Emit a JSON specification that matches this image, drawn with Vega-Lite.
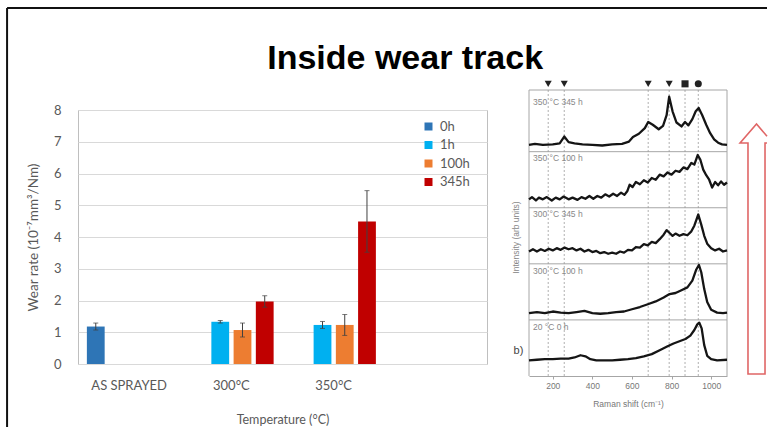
{
  "$schema": "https://vega.github.io/schema/vega-lite/v6.json",
  "background": "white",
  "padding": {"left": 6, "top": 7, "right": 0, "bottom": 0},
  "title": {"text": "Inside wear track", "font": "Liberation Sans", "fontSize": 34, "fontWeight": "bold", "color": "#000000", "anchor": "middle", "offset": -69, "dx": 17},
  "bounds": "flush",
  "center": true,
  "spacing": 42,
  "datasets": {
    "bars": [
      {"temp": "AS SPRAYED", "time": "0h", "rate": 1.18, "lo": 1.07, "hi": 1.29},
      {"temp": "300°C", "time": "1h", "rate": 1.33, "lo": 1.29, "hi": 1.37},
      {"temp": "300°C", "time": "100h", "rate": 1.07, "lo": 0.85, "hi": 1.29},
      {"temp": "300°C", "time": "345h", "rate": 1.97, "lo": 1.79, "hi": 2.15},
      {"temp": "350°C", "time": "1h", "rate": 1.23, "lo": 1.12, "hi": 1.34},
      {"temp": "350°C", "time": "100h", "rate": 1.23, "lo": 0.9, "hi": 1.56},
      {"temp": "350°C", "time": "345h", "rate": 4.49, "lo": 3.52, "hi": 5.46}
    ],
    "spectra": [
      {"series": "350 °C 345 h", "shift": 80, "intensity": 4.12},
      {"series": "350 °C 345 h", "shift": 110, "intensity": 4.14},
      {"series": "350 °C 345 h", "shift": 150, "intensity": 4.12},
      {"series": "350 °C 345 h", "shift": 200, "intensity": 4.13},
      {"series": "350 °C 345 h", "shift": 235, "intensity": 4.15},
      {"series": "350 °C 345 h", "shift": 258, "intensity": 4.27},
      {"series": "350 °C 345 h", "shift": 280, "intensity": 4.17},
      {"series": "350 °C 345 h", "shift": 310, "intensity": 4.15},
      {"series": "350 °C 345 h", "shift": 350, "intensity": 4.13},
      {"series": "350 °C 345 h", "shift": 400, "intensity": 4.12},
      {"series": "350 °C 345 h", "shift": 450, "intensity": 4.11},
      {"series": "350 °C 345 h", "shift": 500, "intensity": 4.13},
      {"series": "350 °C 345 h", "shift": 550, "intensity": 4.14},
      {"series": "350 °C 345 h", "shift": 585, "intensity": 4.18},
      {"series": "350 °C 345 h", "shift": 605, "intensity": 4.26},
      {"series": "350 °C 345 h", "shift": 635, "intensity": 4.32},
      {"series": "350 °C 345 h", "shift": 665, "intensity": 4.42},
      {"series": "350 °C 345 h", "shift": 682, "intensity": 4.53},
      {"series": "350 °C 345 h", "shift": 705, "intensity": 4.48},
      {"series": "350 °C 345 h", "shift": 735, "intensity": 4.40},
      {"series": "350 °C 345 h", "shift": 757, "intensity": 4.46},
      {"series": "350 °C 345 h", "shift": 775, "intensity": 4.65},
      {"series": "350 °C 345 h", "shift": 788, "intensity": 4.98},
      {"series": "350 °C 345 h", "shift": 805, "intensity": 4.72},
      {"series": "350 °C 345 h", "shift": 825, "intensity": 4.52},
      {"series": "350 °C 345 h", "shift": 850, "intensity": 4.45},
      {"series": "350 °C 345 h", "shift": 868, "intensity": 4.53},
      {"series": "350 °C 345 h", "shift": 885, "intensity": 4.47},
      {"series": "350 °C 345 h", "shift": 905, "intensity": 4.58},
      {"series": "350 °C 345 h", "shift": 922, "intensity": 4.72},
      {"series": "350 °C 345 h", "shift": 937, "intensity": 4.78},
      {"series": "350 °C 345 h", "shift": 955, "intensity": 4.65},
      {"series": "350 °C 345 h", "shift": 975, "intensity": 4.48},
      {"series": "350 °C 345 h", "shift": 995, "intensity": 4.33},
      {"series": "350 °C 345 h", "shift": 1015, "intensity": 4.22},
      {"series": "350 °C 345 h", "shift": 1035, "intensity": 4.16},
      {"series": "350 °C 345 h", "shift": 1055, "intensity": 4.13},
      {"series": "350 °C 345 h", "shift": 1080, "intensity": 4.12},

      {"series": "350 °C 100 h", "shift": 80, "intensity": 3.15},
      {"series": "350 °C 100 h", "shift": 95, "intensity": 3.19},
      {"series": "350 °C 100 h", "shift": 115, "intensity": 3.13},
      {"series": "350 °C 100 h", "shift": 130, "intensity": 3.18},
      {"series": "350 °C 100 h", "shift": 150, "intensity": 3.15},
      {"series": "350 °C 100 h", "shift": 170, "intensity": 3.19},
      {"series": "350 °C 100 h", "shift": 195, "intensity": 3.13},
      {"series": "350 °C 100 h", "shift": 215, "intensity": 3.18},
      {"series": "350 °C 100 h", "shift": 235, "intensity": 3.15},
      {"series": "350 °C 100 h", "shift": 255, "intensity": 3.20},
      {"series": "350 °C 100 h", "shift": 280, "intensity": 3.15},
      {"series": "350 °C 100 h", "shift": 300, "intensity": 3.18},
      {"series": "350 °C 100 h", "shift": 325, "intensity": 3.14},
      {"series": "350 °C 100 h", "shift": 345, "intensity": 3.19},
      {"series": "350 °C 100 h", "shift": 365, "intensity": 3.16},
      {"series": "350 °C 100 h", "shift": 385, "intensity": 3.21},
      {"series": "350 °C 100 h", "shift": 405, "intensity": 3.16},
      {"series": "350 °C 100 h", "shift": 425, "intensity": 3.21},
      {"series": "350 °C 100 h", "shift": 445, "intensity": 3.18},
      {"series": "350 °C 100 h", "shift": 465, "intensity": 3.24},
      {"series": "350 °C 100 h", "shift": 485, "intensity": 3.20},
      {"series": "350 °C 100 h", "shift": 505, "intensity": 3.25},
      {"series": "350 °C 100 h", "shift": 525, "intensity": 3.21},
      {"series": "350 °C 100 h", "shift": 545, "intensity": 3.27},
      {"series": "350 °C 100 h", "shift": 562, "intensity": 3.23},
      {"series": "350 °C 100 h", "shift": 577, "intensity": 3.30},
      {"series": "350 °C 100 h", "shift": 588, "intensity": 3.41},
      {"series": "350 °C 100 h", "shift": 603, "intensity": 3.37},
      {"series": "350 °C 100 h", "shift": 620, "intensity": 3.46},
      {"series": "350 °C 100 h", "shift": 640, "intensity": 3.42},
      {"series": "350 °C 100 h", "shift": 660, "intensity": 3.49},
      {"series": "350 °C 100 h", "shift": 680, "intensity": 3.45},
      {"series": "350 °C 100 h", "shift": 700, "intensity": 3.53},
      {"series": "350 °C 100 h", "shift": 720, "intensity": 3.50},
      {"series": "350 °C 100 h", "shift": 740, "intensity": 3.59},
      {"series": "350 °C 100 h", "shift": 760, "intensity": 3.56},
      {"series": "350 °C 100 h", "shift": 780, "intensity": 3.63},
      {"series": "350 °C 100 h", "shift": 800, "intensity": 3.59},
      {"series": "350 °C 100 h", "shift": 820, "intensity": 3.66},
      {"series": "350 °C 100 h", "shift": 840, "intensity": 3.64},
      {"series": "350 °C 100 h", "shift": 860, "intensity": 3.72},
      {"series": "350 °C 100 h", "shift": 880, "intensity": 3.69},
      {"series": "350 °C 100 h", "shift": 900, "intensity": 3.80},
      {"series": "350 °C 100 h", "shift": 915, "intensity": 3.77},
      {"series": "350 °C 100 h", "shift": 932, "intensity": 3.94},
      {"series": "350 °C 100 h", "shift": 945, "intensity": 3.86},
      {"series": "350 °C 100 h", "shift": 960, "intensity": 3.68},
      {"series": "350 °C 100 h", "shift": 975, "intensity": 3.58},
      {"series": "350 °C 100 h", "shift": 990, "intensity": 3.50},
      {"series": "350 °C 100 h", "shift": 1005, "intensity": 3.36},
      {"series": "350 °C 100 h", "shift": 1020, "intensity": 3.46},
      {"series": "350 °C 100 h", "shift": 1035, "intensity": 3.40},
      {"series": "350 °C 100 h", "shift": 1050, "intensity": 3.47},
      {"series": "350 °C 100 h", "shift": 1065, "intensity": 3.41},
      {"series": "350 °C 100 h", "shift": 1080, "intensity": 3.45},

      {"series": "300 °C 345 h", "shift": 80, "intensity": 2.22},
      {"series": "300 °C 345 h", "shift": 100, "intensity": 2.26},
      {"series": "300 °C 345 h", "shift": 120, "intensity": 2.22},
      {"series": "300 °C 345 h", "shift": 140, "intensity": 2.26},
      {"series": "300 °C 345 h", "shift": 160, "intensity": 2.23},
      {"series": "300 °C 345 h", "shift": 180, "intensity": 2.27},
      {"series": "300 °C 345 h", "shift": 200, "intensity": 2.24},
      {"series": "300 °C 345 h", "shift": 220, "intensity": 2.28},
      {"series": "300 °C 345 h", "shift": 240, "intensity": 2.25},
      {"series": "300 °C 345 h", "shift": 260, "intensity": 2.29},
      {"series": "300 °C 345 h", "shift": 280, "intensity": 2.26},
      {"series": "300 °C 345 h", "shift": 300, "intensity": 2.28},
      {"series": "300 °C 345 h", "shift": 320, "intensity": 2.24},
      {"series": "300 °C 345 h", "shift": 340, "intensity": 2.27},
      {"series": "300 °C 345 h", "shift": 360, "intensity": 2.22},
      {"series": "300 °C 345 h", "shift": 380, "intensity": 2.25},
      {"series": "300 °C 345 h", "shift": 400, "intensity": 2.21},
      {"series": "300 °C 345 h", "shift": 420, "intensity": 2.23},
      {"series": "300 °C 345 h", "shift": 440, "intensity": 2.19},
      {"series": "300 °C 345 h", "shift": 460, "intensity": 2.21},
      {"series": "300 °C 345 h", "shift": 480, "intensity": 2.18},
      {"series": "300 °C 345 h", "shift": 500, "intensity": 2.20},
      {"series": "300 °C 345 h", "shift": 520, "intensity": 2.18},
      {"series": "300 °C 345 h", "shift": 540, "intensity": 2.22},
      {"series": "300 °C 345 h", "shift": 560, "intensity": 2.20},
      {"series": "300 °C 345 h", "shift": 580, "intensity": 2.25},
      {"series": "300 °C 345 h", "shift": 600, "intensity": 2.24},
      {"series": "300 °C 345 h", "shift": 620, "intensity": 2.30},
      {"series": "300 °C 345 h", "shift": 640, "intensity": 2.29},
      {"series": "300 °C 345 h", "shift": 660, "intensity": 2.35},
      {"series": "300 °C 345 h", "shift": 680, "intensity": 2.33},
      {"series": "300 °C 345 h", "shift": 700, "intensity": 2.39},
      {"series": "300 °C 345 h", "shift": 720, "intensity": 2.37},
      {"series": "300 °C 345 h", "shift": 740, "intensity": 2.44},
      {"series": "300 °C 345 h", "shift": 760, "intensity": 2.52},
      {"series": "300 °C 345 h", "shift": 775, "intensity": 2.60},
      {"series": "300 °C 345 h", "shift": 790, "intensity": 2.55},
      {"series": "300 °C 345 h", "shift": 805, "intensity": 2.50},
      {"series": "300 °C 345 h", "shift": 820, "intensity": 2.54},
      {"series": "300 °C 345 h", "shift": 840, "intensity": 2.50},
      {"series": "300 °C 345 h", "shift": 860, "intensity": 2.53},
      {"series": "300 °C 345 h", "shift": 880, "intensity": 2.51},
      {"series": "300 °C 345 h", "shift": 900, "intensity": 2.58},
      {"series": "300 °C 345 h", "shift": 915, "intensity": 2.68},
      {"series": "300 °C 345 h", "shift": 935, "intensity": 2.88},
      {"series": "300 °C 345 h", "shift": 950, "intensity": 2.70},
      {"series": "300 °C 345 h", "shift": 965, "intensity": 2.50},
      {"series": "300 °C 345 h", "shift": 980, "intensity": 2.36},
      {"series": "300 °C 345 h", "shift": 1000, "intensity": 2.28},
      {"series": "300 °C 345 h", "shift": 1020, "intensity": 2.24},
      {"series": "300 °C 345 h", "shift": 1040, "intensity": 2.27},
      {"series": "300 °C 345 h", "shift": 1060, "intensity": 2.22},
      {"series": "300 °C 345 h", "shift": 1080, "intensity": 2.24},

      {"series": "300 °C 100 h", "shift": 80, "intensity": 1.12},
      {"series": "300 °C 100 h", "shift": 120, "intensity": 1.14},
      {"series": "300 °C 100 h", "shift": 160, "intensity": 1.12},
      {"series": "300 °C 100 h", "shift": 200, "intensity": 1.15},
      {"series": "300 °C 100 h", "shift": 240, "intensity": 1.13},
      {"series": "300 °C 100 h", "shift": 280, "intensity": 1.12},
      {"series": "300 °C 100 h", "shift": 320, "intensity": 1.14},
      {"series": "300 °C 100 h", "shift": 360, "intensity": 1.16},
      {"series": "300 °C 100 h", "shift": 400, "intensity": 1.12},
      {"series": "300 °C 100 h", "shift": 440, "intensity": 1.11},
      {"series": "300 °C 100 h", "shift": 480, "intensity": 1.12},
      {"series": "300 °C 100 h", "shift": 520, "intensity": 1.14},
      {"series": "300 °C 100 h", "shift": 560, "intensity": 1.15},
      {"series": "300 °C 100 h", "shift": 600, "intensity": 1.19},
      {"series": "300 °C 100 h", "shift": 640, "intensity": 1.23},
      {"series": "300 °C 100 h", "shift": 680, "intensity": 1.28},
      {"series": "300 °C 100 h", "shift": 720, "intensity": 1.33},
      {"series": "300 °C 100 h", "shift": 760, "intensity": 1.40},
      {"series": "300 °C 100 h", "shift": 790, "intensity": 1.46},
      {"series": "300 °C 100 h", "shift": 820, "intensity": 1.48},
      {"series": "300 °C 100 h", "shift": 850, "intensity": 1.53},
      {"series": "300 °C 100 h", "shift": 880, "intensity": 1.58},
      {"series": "300 °C 100 h", "shift": 905, "intensity": 1.70},
      {"series": "300 °C 100 h", "shift": 925, "intensity": 1.90},
      {"series": "300 °C 100 h", "shift": 938, "intensity": 1.98},
      {"series": "300 °C 100 h", "shift": 950, "intensity": 1.85},
      {"series": "300 °C 100 h", "shift": 965, "intensity": 1.55},
      {"series": "300 °C 100 h", "shift": 980, "intensity": 1.32},
      {"series": "300 °C 100 h", "shift": 1000, "intensity": 1.18},
      {"series": "300 °C 100 h", "shift": 1030, "intensity": 1.13},
      {"series": "300 °C 100 h", "shift": 1060, "intensity": 1.12},
      {"series": "300 °C 100 h", "shift": 1080, "intensity": 1.13},

      {"series": "20 °C 0 h", "shift": 80, "intensity": 0.28},
      {"series": "20 °C 0 h", "shift": 120, "intensity": 0.29},
      {"series": "20 °C 0 h", "shift": 160, "intensity": 0.30},
      {"series": "20 °C 0 h", "shift": 200, "intensity": 0.30},
      {"series": "20 °C 0 h", "shift": 240, "intensity": 0.31},
      {"series": "20 °C 0 h", "shift": 280, "intensity": 0.31},
      {"series": "20 °C 0 h", "shift": 310, "intensity": 0.33},
      {"series": "20 °C 0 h", "shift": 340, "intensity": 0.37},
      {"series": "20 °C 0 h", "shift": 365, "intensity": 0.35},
      {"series": "20 °C 0 h", "shift": 390, "intensity": 0.30},
      {"series": "20 °C 0 h", "shift": 420, "intensity": 0.28},
      {"series": "20 °C 0 h", "shift": 460, "intensity": 0.28},
      {"series": "20 °C 0 h", "shift": 500, "intensity": 0.28},
      {"series": "20 °C 0 h", "shift": 540, "intensity": 0.29},
      {"series": "20 °C 0 h", "shift": 580, "intensity": 0.30},
      {"series": "20 °C 0 h", "shift": 620, "intensity": 0.32},
      {"series": "20 °C 0 h", "shift": 660, "intensity": 0.35},
      {"series": "20 °C 0 h", "shift": 700, "intensity": 0.39},
      {"series": "20 °C 0 h", "shift": 740, "intensity": 0.46},
      {"series": "20 °C 0 h", "shift": 780, "intensity": 0.53},
      {"series": "20 °C 0 h", "shift": 810, "intensity": 0.58},
      {"series": "20 °C 0 h", "shift": 840, "intensity": 0.62},
      {"series": "20 °C 0 h", "shift": 870, "intensity": 0.66},
      {"series": "20 °C 0 h", "shift": 895, "intensity": 0.72},
      {"series": "20 °C 0 h", "shift": 915, "intensity": 0.82},
      {"series": "20 °C 0 h", "shift": 930, "intensity": 0.92},
      {"series": "20 °C 0 h", "shift": 940, "intensity": 0.95},
      {"series": "20 °C 0 h", "shift": 952, "intensity": 0.85},
      {"series": "20 °C 0 h", "shift": 965, "intensity": 0.55},
      {"series": "20 °C 0 h", "shift": 980, "intensity": 0.36},
      {"series": "20 °C 0 h", "shift": 1000, "intensity": 0.30},
      {"series": "20 °C 0 h", "shift": 1030, "intensity": 0.28},
      {"series": "20 °C 0 h", "shift": 1080, "intensity": 0.29}
    ],
    "panelFrame": [
      {"shift": 80, "intensity": 5.1, "shift2": 1080, "intensity2": 5.1},
      {"shift": 80, "intensity": 0, "shift2": 80, "intensity2": 5.1},
      {"shift": 1080, "intensity": 0, "shift2": 1080, "intensity2": 5.1},
      {"shift": 80, "intensity": 1, "shift2": 1080, "intensity2": 1},
      {"shift": 80, "intensity": 2, "shift2": 1080, "intensity2": 2},
      {"shift": 80, "intensity": 3, "shift2": 1080, "intensity2": 3},
      {"shift": 80, "intensity": 4, "shift2": 1080, "intensity2": 4}
    ],
    "bandLines": [
      {"shift": 177, "intensity": 0, "shift2": 177, "intensity2": 5.1},
      {"shift": 258, "intensity": 0, "shift2": 258, "intensity2": 5.1},
      {"shift": 682, "intensity": 0, "shift2": 682, "intensity2": 5.1},
      {"shift": 788, "intensity": 0, "shift2": 788, "intensity2": 5.1},
      {"shift": 868, "intensity": 0, "shift2": 868, "intensity2": 5.1},
      {"shift": 935, "intensity": 0, "shift2": 935, "intensity2": 5.1}
    ],
    "bandMarkers": [
      {"shift": 177, "intensity": 5.21, "kind": "triangle"},
      {"shift": 258, "intensity": 5.21, "kind": "triangle"},
      {"shift": 682, "intensity": 5.21, "kind": "triangle"},
      {"shift": 788, "intensity": 5.21, "kind": "triangle"},
      {"shift": 868, "intensity": 5.21, "kind": "square"},
      {"shift": 935, "intensity": 5.21, "kind": "circle"}
    ],
    "panelLabels": [
      {"shift": 100, "intensity": 4.89, "label": "350 °C 345 h"},
      {"shift": 100, "intensity": 3.88, "label": "350 °C 100 h"},
      {"shift": 100, "intensity": 2.88, "label": "300 °C 345 h"},
      {"shift": 100, "intensity": 1.88, "label": "300 °C 100 h"},
      {"shift": 100, "intensity": 0.88, "label": "20 °C 0 h"}
    ],
    "partLabel": [
      {"shift": 2, "intensity": 0.45, "label": "b)"}
    ],
    "slideFrame": [
      {"shift": -2556, "intensity": 6.562, "shift2": -2556, "intensity2": -0.91},
      {"shift": -2556, "intensity": 6.562, "shift2": 1282, "intensity2": 6.562}
    ],
    "arrow": [
      {"i": 0, "shift": 1282, "intensity": 4.276},
      {"i": 1, "shift": 1229, "intensity": 4.494},
      {"i": 2, "shift": 1146, "intensity": 4.155},
      {"i": 3, "shift": 1186, "intensity": 4.155},
      {"i": 4, "shift": 1186, "intensity": 0.036},
      {"i": 5, "shift": 1272, "intensity": 0.036},
      {"i": 6, "shift": 1272, "intensity": 4.155},
      {"i": 7, "shift": 1282, "intensity": 4.155}
    ]
  },
  "hconcat": [
    {
      "width": 409,
      "height": 254,
      "view": {"stroke": "#BFBFBF", "strokeWidth": 1},
      "data": {"name": "bars"},
      "encoding": {
        "x": {
          "field": "temp", "type": "nominal",
          "scale": {"domain": ["AS SPRAYED", "300°C", "350°C", " "], "paddingInner": 0.13, "paddingOuter": 0.065},
          "title": "Temperature (°C)",
          "axis": {"labelAngle": 0, "labelFont": "Lato", "labelFontSize": 13, "labelColor": "#595959", "labelPadding": 15, "ticks": false, "domain": false, "titleFont": "Lato", "titleFontSize": 12.5, "titleFontWeight": "normal", "titleColor": "#595959", "titlePadding": 21}
        },
        "xOffset": {"field": "time", "type": "nominal", "scale": {"domain": ["0h", "1h", "100h", "345h"], "paddingInner": 0.2, "paddingOuter": 0.1}}
      },
      "layer": [
        {
          "mark": {"type": "bar"},
          "encoding": {
            "y": {
              "field": "rate", "type": "quantitative",
              "scale": {"domain": [0, 8], "nice": false},
              "title": "Wear rate (10⁻⁷mm³/Nm)",
              "axis": {"values": [0, 1, 2, 3, 4, 5, 6, 7, 8], "labelOverlap": false, "grid": true, "gridColor": "#D9D9D9", "domain": false, "ticks": false, "labelFont": "Lato", "labelFontSize": 13, "labelColor": "#595959", "labelPadding": 17, "titleFont": "Lato", "titleFontSize": 13.5, "titleFontWeight": "normal", "titleColor": "#595959", "titlePadding": 13}
            },
            "color": {
              "field": "time", "type": "nominal",
              "scale": {"domain": ["0h", "1h", "100h", "345h"], "range": ["#2E75B6", "#00B0F0", "#ED7D31", "#C00000"]},
              "legend": {"orient": "none", "legendX": 344, "legendY": 30, "title": null, "symbolType": "square", "symbolSize": 64, "symbolStrokeWidth": 0, "labelFont": "Lato", "labelFontSize": 13, "labelColor": "#595959", "rowPadding": 4.5, "labelOffset": 5}
            }
          }
        },
        {
          "mark": {"type": "rule", "color": "#404040", "strokeWidth": 1},
          "encoding": {
            "y": {
              "field": "lo", "type": "quantitative",
              "scale": {"domain": [0, 8], "nice": false},
              "title": "Wear rate (10⁻⁷mm³/Nm)",
              "axis": {"values": [0, 1, 2, 3, 4, 5, 6, 7, 8], "labelOverlap": false, "grid": true, "gridColor": "#D9D9D9", "domain": false, "ticks": false, "labelFont": "Lato", "labelFontSize": 13, "labelColor": "#595959", "labelPadding": 17, "titleFont": "Lato", "titleFontSize": 13.5, "titleFontWeight": "normal", "titleColor": "#595959", "titlePadding": 13}
            },
            "y2": {"field": "hi"}
          }
        },
        {
          "mark": {"type": "tick", "color": "#404040", "thickness": 1, "size": 5},
          "encoding": {
            "y": {
              "field": "hi", "type": "quantitative",
              "scale": {"domain": [0, 8], "nice": false},
              "title": "Wear rate (10⁻⁷mm³/Nm)",
              "axis": {"values": [0, 1, 2, 3, 4, 5, 6, 7, 8], "labelOverlap": false, "grid": true, "gridColor": "#D9D9D9", "domain": false, "ticks": false, "labelFont": "Lato", "labelFontSize": 13, "labelColor": "#595959", "labelPadding": 17, "titleFont": "Lato", "titleFontSize": 13.5, "titleFontWeight": "normal", "titleColor": "#595959", "titlePadding": 13}
            }
          }
        },
        {
          "mark": {"type": "tick", "color": "#404040", "thickness": 1, "size": 5},
          "encoding": {
            "y": {
              "field": "lo", "type": "quantitative",
              "scale": {"domain": [0, 8], "nice": false},
              "title": "Wear rate (10⁻⁷mm³/Nm)",
              "axis": {"values": [0, 1, 2, 3, 4, 5, 6, 7, 8], "labelOverlap": false, "grid": true, "gridColor": "#D9D9D9", "domain": false, "ticks": false, "labelFont": "Lato", "labelFontSize": 13, "labelColor": "#595959", "labelPadding": 17, "titleFont": "Lato", "titleFontSize": 13.5, "titleFontWeight": "normal", "titleColor": "#595959", "titlePadding": 13}
            }
          }
        }
      ]
    },
    {
      "width": 198,
      "height": 294,
      "view": {"stroke": null},
      "encoding": {
        "x": {
          "field": "shift", "type": "quantitative",
          "scale": {"domain": [80, 1080], "nice": false, "zero": false},
          "title": "Raman shift (cm⁻¹)",
          "axis": {"values": [200, 400, 600, 800, 1000], "format": "d", "offset": -8, "grid": false, "domainColor": "#A6A6A6", "tickColor": "#A6A6A6", "tickSize": 3, "labelFont": "Liberation Sans", "labelFontSize": 8.5, "labelColor": "#777777", "labelPadding": 2, "titleFont": "Liberation Sans", "titleFontSize": 8.5, "titleFontWeight": "normal", "titleColor": "#777777", "titlePadding": 10}
        },
        "y": {
          "field": "intensity", "type": "quantitative",
          "scale": {"domain": [-0.1427, 5.1], "nice": false, "zero": false},
          "title": "Intensity (arb units)",
          "axis": {"labels": false, "ticks": false, "domain": false, "grid": false, "titleFont": "Liberation Sans", "titleFontSize": 8.5, "titleFontWeight": "normal", "titleColor": "#888888", "titlePadding": 9}
        }
      },
      "layer": [
        {
          "data": {"name": "panelFrame"},
          "mark": {"type": "rule", "color": "#A6A6A6", "strokeWidth": 1},
          "encoding": {"x2": {"field": "shift2"}, "y2": {"field": "intensity2"}}
        },
        {
          "data": {"name": "bandLines"},
          "mark": {"type": "rule", "color": "#9A9A9A", "strokeWidth": 0.8, "strokeDash": [2, 2]},
          "encoding": {"x2": {"field": "shift2"}, "y2": {"field": "intensity2"}}
        },
        {
          "data": {"name": "spectra"},
          "mark": {"type": "line", "color": "#151515", "strokeWidth": 2.3, "strokeJoin": "round"},
          "encoding": {"detail": {"field": "series", "type": "nominal"}}
        },
        {
          "data": {"name": "bandMarkers"},
          "mark": {"type": "point", "filled": true, "color": "#222222", "size": 50, "opacity": 1},
          "encoding": {
            "shape": {"field": "kind", "type": "nominal", "scale": {"domain": ["triangle", "square", "circle"], "range": ["triangle-down", "square", "circle"]}, "legend": null}
          }
        },
        {
          "data": {"name": "panelLabels"},
          "mark": {"type": "text", "align": "left", "baseline": "middle", "font": "Liberation Sans", "fontSize": 8.5, "color": "#888888"},
          "encoding": {"text": {"field": "label"}}
        },
        {
          "data": {"name": "partLabel"},
          "mark": {"type": "text", "align": "left", "baseline": "middle", "font": "Liberation Sans", "fontSize": 11, "color": "#444444"},
          "encoding": {"text": {"field": "label"}}
        },
        {
          "data": {"name": "slideFrame"},
          "mark": {"type": "rule", "color": "#111111", "strokeWidth": 2},
          "encoding": {"x2": {"field": "shift2"}, "y2": {"field": "intensity2"}}
        },
        {
          "data": {"name": "arrow"},
          "mark": {"type": "line", "color": "#E06666", "strokeWidth": 1.6, "strokeJoin": "miter"},
          "encoding": {"order": {"field": "i", "type": "quantitative"}}
        }
      ]
    }
  ]
}
